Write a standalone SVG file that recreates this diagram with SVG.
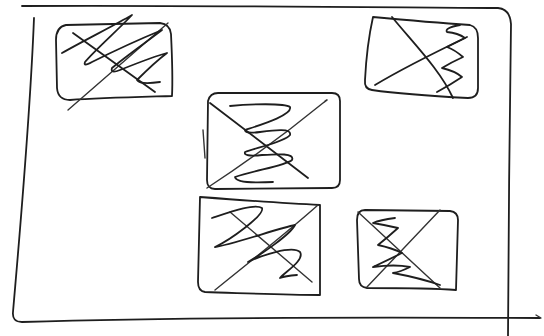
<svg xmlns="http://www.w3.org/2000/svg" width="544" height="336" viewBox="0 0 544 336">
<style>
path{fill:none;stroke:#1e1e1e;stroke-width:1.8;stroke-linecap:round;stroke-linejoin:round}
.thin{stroke-width:1.4;stroke:#333}
</style>
<rect width="544" height="336" fill="#fff"/>
<g id="frame">
<path d="M22,6 C150,5 350,7 498,8 Q510,9 511,24 C510,120 508,240 508,336"/>
<path d="M34,18 C30,120 20,230 13,312 Q12,322 22,322 C150,318 350,317 540,318"/>
<path d="M536,315 L541,318" class="thin"/>
</g>
<g id="image1">
<path d="M66,25 L160,23 Q170,24 171,34 C172,55 173,75 172,96 C140,97 100,98 70,100 Q58,100 57,88 L56,40 Q56,27 66,25 Z"/>
<path d="M68,110 L168,23" class="thin"/>
<path d="M73,33 L155,92"/>
<path d="M62,53 C85,40 115,25 132,15 C120,28 95,50 85,62 Q83,67 92,62 C120,48 145,37 162,30 C145,43 125,57 112,68 Q110,74 120,70 C140,62 155,56 167,53 C155,62 145,72 137,80 Q140,85 160,82"/>
</g>
<g id="image2">
<path d="M373,17 C405,20 440,23 470,25 Q478,27 478,38 L478,88 Q478,98 468,98 C430,96 400,94 372,90 Q364,89 365,80 C366,60 369,35 373,17 Z"/>
<path d="M392,17 C415,45 440,70 453,98"/>
<path d="M375,85 C400,70 440,50 467,37"/>
<path d="M460,25 Q444,28 447,32 Q458,33 465,38 Q455,43 447,47 Q455,50 463,57 Q452,62 442,68 Q455,71 462,77 Q450,85 437,92"/>
</g>
<g id="image3">
<path d="M218,93 L332,93 Q340,93 340,101 L340,180 Q340,188 332,188 L215,189 Q207,189 207,180 L208,101 Q210,93 218,93 Z"/>
<path d="M203,130 L205,158" class="thin"/>
<path d="M210,103 L308,178"/>
<path d="M207,188 C250,160 290,130 323,103 Q330,98 325,101" class="thin"/>
<path d="M230,106 C250,104 285,103 290,107 C293,115 260,125 245,130 Q245,134 260,132 C275,130 292,128 290,135 C285,142 255,148 245,152 Q243,157 262,155 C278,154 295,153 292,160 C285,166 255,170 235,177 Q236,184 273,182"/>
</g>
<g id="image4">
<path d="M200,197 C240,200 280,203 320,205 L320,295 C280,295 240,293 205,292 Q198,291 198,282 Z"/>
<path d="M230,212 L312,282" class="thin"/>
<path d="M215,290 C250,262 290,230 318,205" class="thin"/>
<path d="M212,218 C230,212 255,203 262,208 C265,215 230,240 215,247 C230,245 280,228 295,225 C290,235 260,255 248,262 C260,256 292,245 300,252 C305,260 285,272 280,278 Q285,276 297,275"/>
</g>
<g id="image5">
<path d="M365,210 L450,211 Q458,212 458,220 L456,290 C430,288 400,288 367,288 Q359,287 359,279 L357,220 Q357,210 365,210 Z"/>
<path d="M358,212 L440,288" class="thin"/>
<path d="M367,287 L440,210" class="thin"/>
<path d="M395,218 Q380,220 373,223 Q385,225 398,228 Q388,237 378,245 Q392,248 402,253 Q388,260 373,267 Q395,264 410,267 Q400,272 393,273 Q420,278 440,285"/>
</g>
</svg>
